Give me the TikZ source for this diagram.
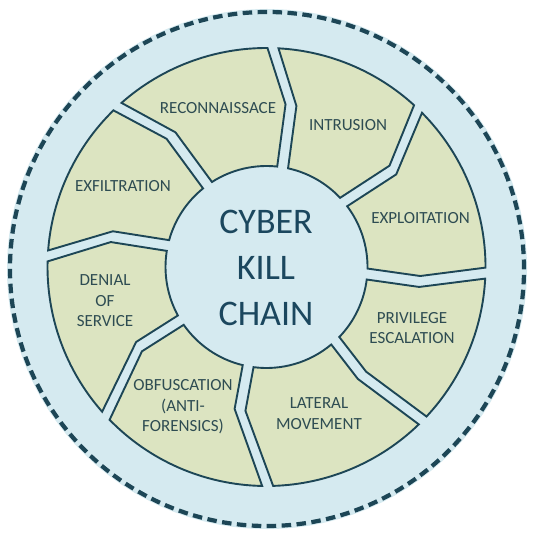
\documentclass[tikz,border=0pt]{standalone}
\usepackage{fontspec}
\setmainfont{Carlito}
\definecolor{kcblue}{HTML}{D5EAF0}
\definecolor{kcolive}{HTML}{DCE4C1}
\definecolor{kcdark}{HTML}{1D4656}
\definecolor{kctext}{HTML}{2E4C52}
\definecolor{kctitle}{HTML}{1B475E}
\def\kcRo{219}
\def\kcRi{101}
\def\kcgh{5.5}
% #1 Pouter #2 Pkink #3 Pkink-r #4 Pinner | #5 Qouter #6 Qkink #7 Qkink-r #8 Qinner
\newcommand\kcseg[8]{%
 \pgfmathsetmacro\kcdo{\kcgh/\kcRo*57.2958}%
 \pgfmathsetmacro\kcdi{\kcgh/\kcRi*57.2958}%
 \pgfmathsetmacro\kcdp{\kcgh/#3*57.2958}%
 \pgfmathsetmacro\kcdq{\kcgh/#7*57.2958}%
 \pgfmathsetmacro\kcas{#1-\kcdo}\pgfmathsetmacro\kcae{#5+\kcdo}%
 \pgfmathsetmacro\kcbs{#8+\kcdi}\pgfmathsetmacro\kcbe{#4-\kcdi}%
 \pgfmathsetmacro\kckq{#6+\kcdq}\pgfmathsetmacro\kckp{#2-\kcdp}%
 \draw[seg] (\kcas:\kcRo) arc[start angle=\kcas, end angle=\kcae, radius=\kcRo]
   -- (\kckq:#7) -- (\kcbs:\kcRi)
   arc[start angle=\kcbs, end angle=\kcbe, radius=\kcRi]
   -- (\kckp:#3) -- cycle;
}
\begin{document}
\begin{tikzpicture}[x=1pt,y=1pt,
 seg/.style={fill=kcolive, draw=kcdark, line width=1.9pt, line join=miter},
 lbl/.style={font=\fontsize{17}{20.5}\selectfont, text=kctext, align=center, inner sep=0pt},
 kctitlestyle/.style={font=\fontsize{36}{46}\selectfont, text=kctitle, align=center, inner sep=0pt}]
\useasboundingbox (0,-537) rectangle (536,0);
\fill[white] (0,-537) rectangle (536,0);
\fill[kcblue] (267,-269) circle[radius=260];
\draw[kcdark, line width=4.2pt, dash pattern=on 9.5pt off 5.45pt] (267,-269) circle[radius=257];
\begin{scope}[shift={(266.5,-267)}]
 % INTRUSION
 \kcseg{88.3}{81.4}{163.8}{80.8}{46.2}{37.5}{159.4}{40.1}
 % EXPLOITATION
 \kcseg{46.2}{37.5}{159.4}{40.1}{-1.6}{-5.4}{154}{-4.0}
 % PRIVILEGE ESCALATION
 \kcseg{-1.6}{-5.4}{154}{-4.0}{-44.5}{-48.6}{144.5}{-47.0}
 % LATERAL MOVEMENT
 \kcseg{-44.5}{-48.6}{144.5}{-47.0}{-89.7}{-100.5}{145.4}{-100.5}
 % OBFUSCATION
 \kcseg{-89.7}{-100.5}{145.4}{-100.5}{-137.2}{-148}{150.4}{-148.2}
 % DENIAL OF SERVICE
 \kcseg{222.8}{212}{150.4}{211.8}{177.1}{168.9}{157.7}{167.7}
 % EXFILTRATION
 \kcseg{177.1}{168.9}{157.7}{167.7}{132.9}{126}{162.6}{125.8}
 % RECONNAISSACE
 \kcseg{132.9}{126}{162.6}{125.8}{88.3}{81.4}{163.8}{80.8}
\end{scope}
\node[kctitlestyle] (title) at (266,-268) {CYBER\\KILL\\CHAIN};
\node[lbl] (recon) at (218,-108) {RECONNAISSACE};
\node[lbl] (intrusion) at (348,-125) {INTRUSION};
\node[lbl] (exploit) at (420.5,-218) {EXPLOITATION};
\node[lbl] (priv) at (412,-328) {PRIVILEGE\\ESCALATION};
\node[lbl] (lateral) at (319,-413.5) {LATERAL\\MOVEMENT};
\node[lbl] (obfus) at (183,-407) {OBFUSCATION\\(ANTI-\\FORENSICS)};
\node[lbl] (denial) at (105,-301) {DENIAL\\OF\\SERVICE};
\node[lbl] (exfil) at (123,-186) {EXFILTRATION};
\end{tikzpicture}
\end{document}
